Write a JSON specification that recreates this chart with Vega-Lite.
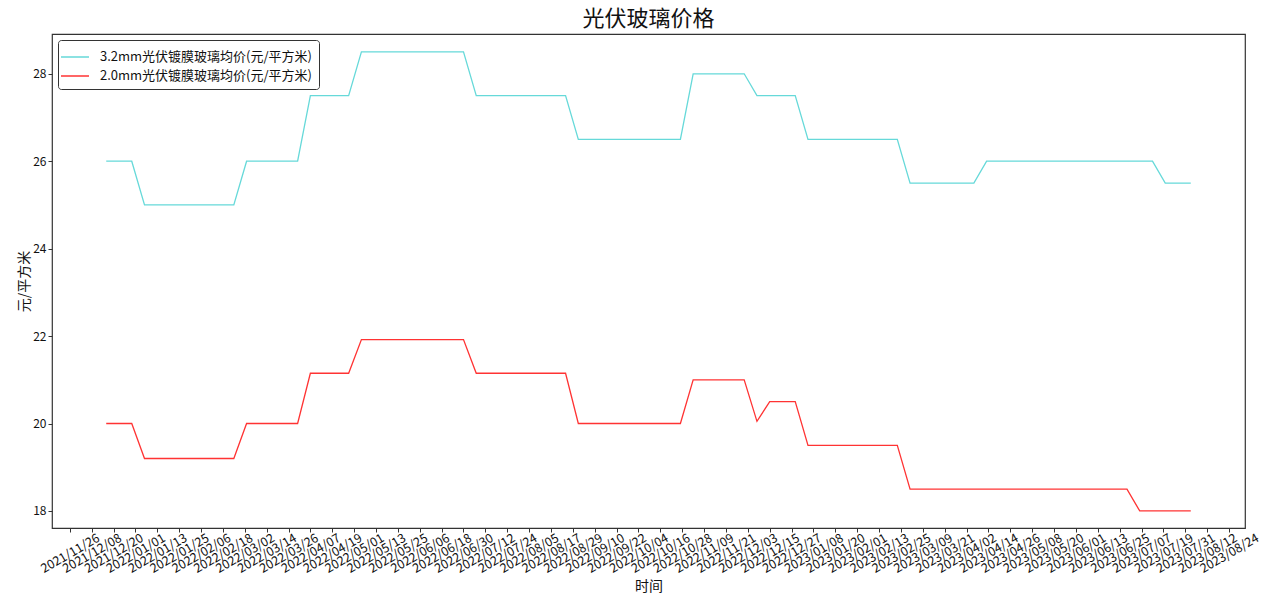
{
  "$schema": "https://vega.github.io/schema/vega-lite/v6.json",
  "description": "光伏玻璃价格 weekly average price, 3.2mm vs 2.0mm coated PV glass.",
  "autosize": {"type": "none"},
  "padding": {"left": 52, "top": 34, "right": 35, "bottom": 83},
  "width": 1193,
  "height": 494,
  "title": {
    "text": "光伏玻璃价格",
    "fontSize": 22,
    "font": "Noto Sans CJK SC",
    "fontWeight": "normal",
    "color": "#111",
    "anchor": "middle",
    "offset": 3
  },
  "data": {
    "values": [
      {"date": "2021-12-16", "a": 26, "b": 20},
      {"date": "2021-12-23", "a": 26, "b": 20},
      {"date": "2021-12-30", "a": 26, "b": 20},
      {"date": "2022-01-06", "a": 25, "b": 19.2},
      {"date": "2022-01-13", "a": 25, "b": 19.2},
      {"date": "2022-01-20", "a": 25, "b": 19.2},
      {"date": "2022-01-27", "a": 25, "b": 19.2},
      {"date": "2022-02-03", "a": 25, "b": 19.2},
      {"date": "2022-02-10", "a": 25, "b": 19.2},
      {"date": "2022-02-17", "a": 25, "b": 19.2},
      {"date": "2022-02-24", "a": 25, "b": 19.2},
      {"date": "2022-03-03", "a": 26, "b": 20},
      {"date": "2022-03-10", "a": 26, "b": 20},
      {"date": "2022-03-17", "a": 26, "b": 20},
      {"date": "2022-03-24", "a": 26, "b": 20},
      {"date": "2022-03-31", "a": 26, "b": 20},
      {"date": "2022-04-07", "a": 27.5, "b": 21.15},
      {"date": "2022-04-14", "a": 27.5, "b": 21.15},
      {"date": "2022-04-21", "a": 27.5, "b": 21.15},
      {"date": "2022-04-28", "a": 27.5, "b": 21.15},
      {"date": "2022-05-05", "a": 28.5, "b": 21.92},
      {"date": "2022-05-12", "a": 28.5, "b": 21.92},
      {"date": "2022-05-19", "a": 28.5, "b": 21.92},
      {"date": "2022-05-26", "a": 28.5, "b": 21.92},
      {"date": "2022-06-02", "a": 28.5, "b": 21.92},
      {"date": "2022-06-09", "a": 28.5, "b": 21.92},
      {"date": "2022-06-16", "a": 28.5, "b": 21.92},
      {"date": "2022-06-23", "a": 28.5, "b": 21.92},
      {"date": "2022-06-30", "a": 28.5, "b": 21.92},
      {"date": "2022-07-07", "a": 27.5, "b": 21.15},
      {"date": "2022-07-14", "a": 27.5, "b": 21.15},
      {"date": "2022-07-21", "a": 27.5, "b": 21.15},
      {"date": "2022-07-28", "a": 27.5, "b": 21.15},
      {"date": "2022-08-04", "a": 27.5, "b": 21.15},
      {"date": "2022-08-11", "a": 27.5, "b": 21.15},
      {"date": "2022-08-18", "a": 27.5, "b": 21.15},
      {"date": "2022-08-25", "a": 27.5, "b": 21.15},
      {"date": "2022-09-01", "a": 26.5, "b": 20},
      {"date": "2022-09-08", "a": 26.5, "b": 20},
      {"date": "2022-09-15", "a": 26.5, "b": 20},
      {"date": "2022-09-22", "a": 26.5, "b": 20},
      {"date": "2022-09-29", "a": 26.5, "b": 20},
      {"date": "2022-10-06", "a": 26.5, "b": 20},
      {"date": "2022-10-13", "a": 26.5, "b": 20},
      {"date": "2022-10-20", "a": 26.5, "b": 20},
      {"date": "2022-10-27", "a": 26.5, "b": 20},
      {"date": "2022-11-03", "a": 28, "b": 21},
      {"date": "2022-11-10", "a": 28, "b": 21},
      {"date": "2022-11-17", "a": 28, "b": 21},
      {"date": "2022-11-24", "a": 28, "b": 21},
      {"date": "2022-12-01", "a": 28, "b": 21},
      {"date": "2022-12-08", "a": 27.5, "b": 20.05},
      {"date": "2022-12-15", "a": 27.5, "b": 20.5},
      {"date": "2022-12-22", "a": 27.5, "b": 20.5},
      {"date": "2022-12-29", "a": 27.5, "b": 20.5},
      {"date": "2023-01-05", "a": 26.5, "b": 19.5},
      {"date": "2023-01-12", "a": 26.5, "b": 19.5},
      {"date": "2023-01-19", "a": 26.5, "b": 19.5},
      {"date": "2023-01-26", "a": 26.5, "b": 19.5},
      {"date": "2023-02-02", "a": 26.5, "b": 19.5},
      {"date": "2023-02-09", "a": 26.5, "b": 19.5},
      {"date": "2023-02-16", "a": 26.5, "b": 19.5},
      {"date": "2023-02-23", "a": 26.5, "b": 19.5},
      {"date": "2023-03-02", "a": 25.5, "b": 18.5},
      {"date": "2023-03-09", "a": 25.5, "b": 18.5},
      {"date": "2023-03-16", "a": 25.5, "b": 18.5},
      {"date": "2023-03-23", "a": 25.5, "b": 18.5},
      {"date": "2023-03-30", "a": 25.5, "b": 18.5},
      {"date": "2023-04-06", "a": 25.5, "b": 18.5},
      {"date": "2023-04-13", "a": 26, "b": 18.5},
      {"date": "2023-04-20", "a": 26, "b": 18.5},
      {"date": "2023-04-27", "a": 26, "b": 18.5},
      {"date": "2023-05-04", "a": 26, "b": 18.5},
      {"date": "2023-05-11", "a": 26, "b": 18.5},
      {"date": "2023-05-18", "a": 26, "b": 18.5},
      {"date": "2023-05-25", "a": 26, "b": 18.5},
      {"date": "2023-06-01", "a": 26, "b": 18.5},
      {"date": "2023-06-08", "a": 26, "b": 18.5},
      {"date": "2023-06-15", "a": 26, "b": 18.5},
      {"date": "2023-06-22", "a": 26, "b": 18.5},
      {"date": "2023-06-29", "a": 26, "b": 18.5},
      {"date": "2023-07-06", "a": 26, "b": 18},
      {"date": "2023-07-13", "a": 26, "b": 18},
      {"date": "2023-07-20", "a": 25.5, "b": 18},
      {"date": "2023-07-27", "a": 25.5, "b": 18},
      {"date": "2023-08-03", "a": 25.5, "b": 18}
    ]
  },
  "transform": [
    {"fold": ["a", "b"], "as": ["series", "price"]}
  ],
  "mark": {"type": "line", "strokeWidth": 1.3},
  "encoding": {
    "x": {
      "field": "date",
      "type": "temporal",
      "scale": {
        "type": "utc",
        "domain": [
          {"year": 2021, "month": 11, "date": 16, "hours": 6, "utc": true},
          {"year": 2023, "month": 9, "date": 1, "hours": 18, "utc": true}
        ]
      },
      "axis": {
        "title": "时间",
        "titleY": 62,
        "titleBaseline": "alphabetic",
        "labelExpr": "utcFormat(datum.value, '%Y/%m/%d')",
        "labelAngle": -30,
        "labelAlign": "center",
        "labelBaseline": "middle",
        "labelPadding": 21,
        "labelFontSize": 12.5,
        "labelOverlap": false,
        "values": [
          {"year": 2021, "month": 11, "date": 26, "utc": true},
          {"year": 2021, "month": 12, "date": 8, "utc": true},
          {"year": 2021, "month": 12, "date": 20, "utc": true},
          {"year": 2022, "month": 1, "date": 1, "utc": true},
          {"year": 2022, "month": 1, "date": 13, "utc": true},
          {"year": 2022, "month": 1, "date": 25, "utc": true},
          {"year": 2022, "month": 2, "date": 6, "utc": true},
          {"year": 2022, "month": 2, "date": 18, "utc": true},
          {"year": 2022, "month": 3, "date": 2, "utc": true},
          {"year": 2022, "month": 3, "date": 14, "utc": true},
          {"year": 2022, "month": 3, "date": 26, "utc": true},
          {"year": 2022, "month": 4, "date": 7, "utc": true},
          {"year": 2022, "month": 4, "date": 19, "utc": true},
          {"year": 2022, "month": 5, "date": 1, "utc": true},
          {"year": 2022, "month": 5, "date": 13, "utc": true},
          {"year": 2022, "month": 5, "date": 25, "utc": true},
          {"year": 2022, "month": 6, "date": 6, "utc": true},
          {"year": 2022, "month": 6, "date": 18, "utc": true},
          {"year": 2022, "month": 6, "date": 30, "utc": true},
          {"year": 2022, "month": 7, "date": 12, "utc": true},
          {"year": 2022, "month": 7, "date": 24, "utc": true},
          {"year": 2022, "month": 8, "date": 5, "utc": true},
          {"year": 2022, "month": 8, "date": 17, "utc": true},
          {"year": 2022, "month": 8, "date": 29, "utc": true},
          {"year": 2022, "month": 9, "date": 10, "utc": true},
          {"year": 2022, "month": 9, "date": 22, "utc": true},
          {"year": 2022, "month": 10, "date": 4, "utc": true},
          {"year": 2022, "month": 10, "date": 16, "utc": true},
          {"year": 2022, "month": 10, "date": 28, "utc": true},
          {"year": 2022, "month": 11, "date": 9, "utc": true},
          {"year": 2022, "month": 11, "date": 21, "utc": true},
          {"year": 2022, "month": 12, "date": 3, "utc": true},
          {"year": 2022, "month": 12, "date": 15, "utc": true},
          {"year": 2022, "month": 12, "date": 27, "utc": true},
          {"year": 2023, "month": 1, "date": 8, "utc": true},
          {"year": 2023, "month": 1, "date": 20, "utc": true},
          {"year": 2023, "month": 2, "date": 1, "utc": true},
          {"year": 2023, "month": 2, "date": 13, "utc": true},
          {"year": 2023, "month": 2, "date": 25, "utc": true},
          {"year": 2023, "month": 3, "date": 9, "utc": true},
          {"year": 2023, "month": 3, "date": 21, "utc": true},
          {"year": 2023, "month": 4, "date": 2, "utc": true},
          {"year": 2023, "month": 4, "date": 14, "utc": true},
          {"year": 2023, "month": 4, "date": 26, "utc": true},
          {"year": 2023, "month": 5, "date": 8, "utc": true},
          {"year": 2023, "month": 5, "date": 20, "utc": true},
          {"year": 2023, "month": 6, "date": 1, "utc": true},
          {"year": 2023, "month": 6, "date": 13, "utc": true},
          {"year": 2023, "month": 6, "date": 25, "utc": true},
          {"year": 2023, "month": 7, "date": 7, "utc": true},
          {"year": 2023, "month": 7, "date": 19, "utc": true},
          {"year": 2023, "month": 7, "date": 31, "utc": true},
          {"year": 2023, "month": 8, "date": 12, "utc": true},
          {"year": 2023, "month": 8, "date": 24, "utc": true}
        ]
      }
    },
    "y": {
      "field": "price",
      "type": "quantitative",
      "scale": {"domain": [17.61, 28.91], "zero": false, "nice": false},
      "axis": {
        "title": "元/平方米",
        "titleX": -24,
        "titleBaseline": "alphabetic",
        "values": [18, 20, 22, 24, 26, 28]
      }
    },
    "color": {
      "field": "series",
      "type": "nominal",
      "scale": {"domain": ["a", "b"], "range": ["#66d9d9", "#ff3333"]},
      "legend": {
        "title": null,
        "orient": "top-left",
        "offset": 6,
        "labelExpr": "datum.value == 'a' ? '3.2mm光伏镀膜玻璃均价(元/平方米)' : '2.0mm光伏镀膜玻璃均价(元/平方米)'",
        "labelLimit": 0,
        "symbolType": "M-1.4,0H1.4",
        "symbolSize": 400,
        "symbolStrokeWidth": 1.5,
        "labelFontSize": 13,
        "labelColor": "#111",
        "labelOffset": 14,
        "rowPadding": 1,
        "padding": 6,
        "strokeColor": "#333",
        "fillColor": "white",
        "cornerRadius": 3
      }
    }
  },
  "config": {
    "font": "Noto Sans CJK SC",
    "view": {"stroke": "#333", "strokeWidth": 1.2},
    "axis": {
      "grid": false,
      "domain": false,
      "tickColor": "#333",
      "tickSize": 4,
      "labelFont": "Noto Sans CJK SC",
      "labelFontSize": 12,
      "labelColor": "#111",
      "titleFont": "Noto Sans CJK SC",
      "titleFontSize": 14,
      "titleFontWeight": "normal",
      "titleColor": "#111"
    },
    "legend": {"labelFont": "Noto Sans CJK SC"}
  }
}
